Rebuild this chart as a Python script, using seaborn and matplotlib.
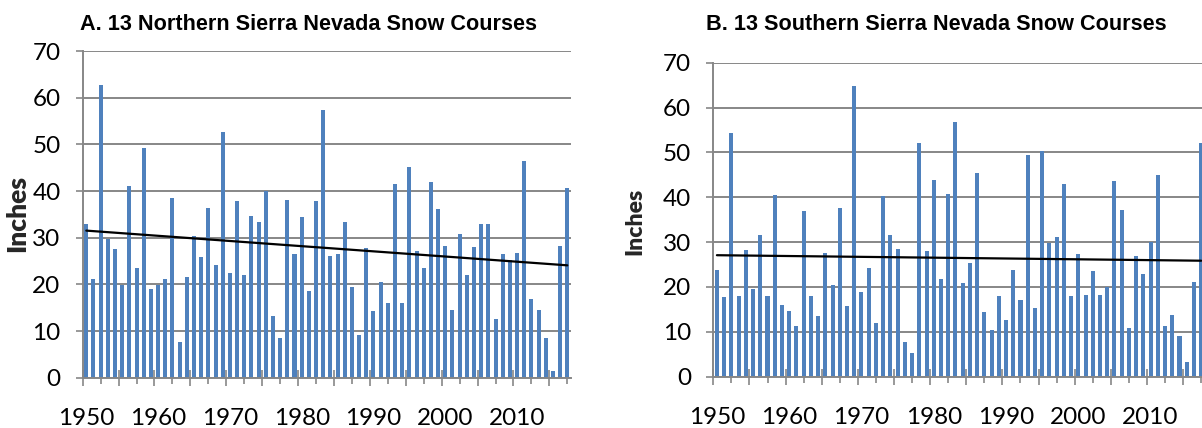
import numpy as np
import pandas as pd
import matplotlib
matplotlib.use("Agg")
import matplotlib.pyplot as plt
import seaborn as sns

# April 1 snow water content, water years 1950-2017
years = list(range(1950, 2018))

north_inches = [
    32.9, 21.1, 62.7, 29.7, 27.6, 19.9, 41.1, 23.5, 49.3, 18.9,
    19.9, 21.1, 38.4, 7.7, 21.5, 30.3, 25.8, 36.3, 24.2, 52.6,
    22.5, 37.8, 21.9, 34.6, 33.3, 40.0, 13.3, 8.4, 38.0, 26.5,
    34.4, 18.6, 37.9, 57.3, 26.1, 26.5, 33.3, 19.4, 9.1, 27.7,
    14.2, 20.4, 16.1, 41.5, 16.1, 45.1, 27.1, 23.4, 41.9, 36.1,
    28.3, 14.5, 30.7, 21.9, 28.0, 32.9, 33.0, 12.6, 26.6, 25.2,
    26.7, 46.5, 16.8, 14.6, 8.6, 1.4, 28.2, 40.6,
]

south_inches = [
    23.8, 17.8, 54.3, 18.1, 28.2, 19.5, 31.6, 18.1, 40.6, 15.9,
    14.6, 11.4, 36.9, 17.9, 13.5, 27.6, 20.5, 37.7, 15.8, 64.9,
    18.8, 24.3, 11.9, 40.3, 31.6, 28.5, 7.7, 5.2, 52.2, 28.1,
    43.8, 21.8, 40.7, 56.7, 20.8, 25.3, 45.5, 14.5, 10.4, 18.1,
    12.7, 23.8, 17.2, 49.4, 15.3, 50.4, 29.9, 31.2, 42.9, 18.1,
    27.3, 18.3, 23.5, 18.2, 20.1, 43.7, 37.1, 10.8, 27.0, 22.8,
    30.0, 44.9, 11.2, 13.7, 9.1, 3.2, 21.2, 52.1,
]

titles = [
    "A. 13 Northern Sierra Nevada Snow Courses",
    "B. 13 Southern Sierra Nevada Snow Courses",
]
year_labels = ["1950", "1960", "1970", "1980", "1990", "2000", "2010"]
y_ticks = [0, 10, 20, 30, 40, 50, 60, 70]

BAR = "#4F81BD"
GRID = "#878787"
W, H = 1202, 428

sns.set_theme(style="white")
plt.rcParams["font.family"] = ["Lato", "DejaVu Sans"]

fig = plt.figure(figsize=(W / 100, H / 100), dpi=100)


def px_axes(left, top, right, bottom):
    return fig.add_axes([left / W, 1 - bottom / H, (right - left) / W, (bottom - top) / H])


def draw_panel(ax, values):
    df = pd.DataFrame({"year": years, "inches": values})
    sns.barplot(data=df, x="year", y="inches", color=BAR, saturation=1,
                width=0.56, ax=ax, linewidth=0)
    idx = np.arange(len(values))
    slope, icpt = np.polyfit(idx, values, 1)
    ax.plot(idx, slope * idx + icpt, color="black", lw=1.6, zorder=5)

    n = len(values)
    ax.set_xlim(-0.5, n - 0.5)
    ax.set_ylim(0, 70)
    ax.set_xlabel("")
    ax.set_ylabel("")

    ax.set_yticks(y_ticks)
    ax.set_yticklabels([str(v) for v in y_ticks])
    ax.yaxis.grid(True, color=GRID, lw=1.4)
    ax.set_axisbelow(True)

    ax.set_xticks([years.index(int(y)) for y in year_labels])
    ax.set_xticklabels(year_labels)
    ax.set_xticks(np.arange(-0.5, n, 5), minor=True)
    ax.tick_params(axis="x", which="major", length=0, pad=22, labelsize=17.5,
                   colors="black")
    ax.tick_params(axis="x", which="minor", length=12, direction="inout",
                   width=1.2, color=GRID, bottom=True)
    ax.tick_params(axis="y", which="major", length=5, direction="out",
                   width=1.2, color=GRID, left=True, pad=11, labelsize=17.5,
                   labelcolor="black")

    sec = ax.secondary_xaxis("bottom")
    sec.set_xticks(np.arange(2, n, 5))
    sec.set_xticklabels([])
    sec.tick_params(length=4.5, direction="out", width=1.2, color=GRID)
    sec.spines["bottom"].set_visible(False)

    for side in ("top", "right"):
        ax.spines[side].set_visible(False)
    for side in ("left", "bottom"):
        ax.spines[side].set_color(GRID)
        ax.spines[side].set_linewidth(1.4)


ax_a = px_axes(82.7, 51, 570.9, 377.7)
draw_panel(ax_a, north_inches)
ax_b = px_axes(713.3, 62.7, 1204.8, 376.7)
draw_panel(ax_b, south_inches)

title_font = dict(family=["Liberation Sans", "DejaVu Sans"], fontweight="bold",
                  fontsize=15.6, color="black", ha="center", va="baseline")
fig.text(309 / W, 1 - 29.5 / H, titles[0], **title_font)
fig.text(936 / W, 1 - 29.5 / H, titles[1], **title_font)

fig.text(17 / W, 1 - 214 / H, "Inches", rotation=90, fontweight="heavy",
         fontsize=19, ha="center", va="center")
fig.text(635 / W, 1 - 221 / H, "Inches", rotation=90, fontweight="heavy",
         fontsize=16.5, ha="center", va="center")

fig.savefig("out.png", dpi=100)
